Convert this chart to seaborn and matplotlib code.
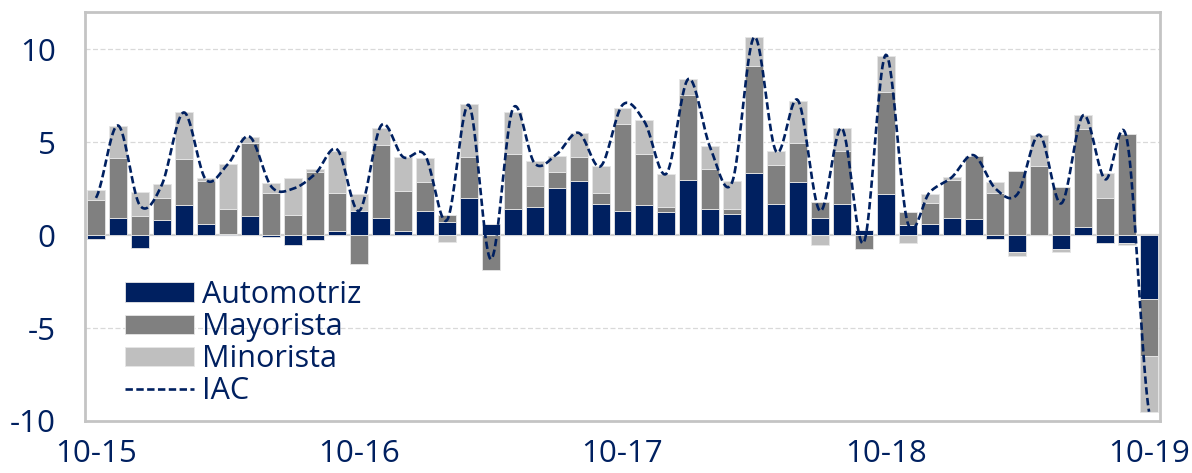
import numpy as np
import pandas as pd
import seaborn as sns
from matplotlib import pyplot as plt

# Monthly contributions, Oct-2015 .. Oct-2019
months = [f"{m:02d}-{y % 100}" for y in range(2015, 2020) for m in range(1, 13)]
months = months[9:9 + 49]

automotriz = [-0.2, 0.93, -0.7, 0.8, 1.6, 0.6, 0.05, 1.04, -0.1, -0.52, -0.27, 0.2,
              1.27, 0.9, 0.2, 1.27, 0.72, 2.0, 0.6, 1.42, 1.52, 2.51, 2.92, 1.67,
              1.27, 1.6, 1.24, 2.94, 1.42, 1.11, 3.32, 1.67, 2.83, 0.93, 1.67, 0.3,
              2.19, 0.52, 0.57, 0.9, 0.84, -0.23, -0.9, 0.03, -0.75, 0.41, -0.43, -0.45,
              -3.45]
mayorista = [1.9, 3.2, 1.0, 1.2, 2.5, 2.3, 1.38, 3.94, 2.24, 1.09, 3.4, 2.04,
             -1.56, 3.92, 2.17, 1.56, 0.36, 2.2, -1.86, 2.92, 1.1, 0.86, 1.26, 0.57,
             4.68, 2.74, 0.25, 4.62, 2.16, 0.32, 5.78, 2.08, 2.15, 0.86, 2.83, -0.75,
             5.48, 0.73, 1.13, 2.06, 3.43, 2.24, 3.46, 3.68, 2.56, 5.31, 2.0, 5.43,
             -3.05]
minorista = [0.5, 1.75, 1.3, 0.77, 2.5, 0.16, 2.4, 0.3, 0.56, 2.0, 0.15, 2.26,
             0.93, 0.95, 1.84, 1.33, -0.36, 2.84, 0.0, 2.27, 1.38, 0.9, 1.3, 1.47,
             0.9, 1.84, 1.8, 0.84, 1.22, 1.49, 1.53, 0.8, 2.21, -0.54, 1.25, 0.0,
             1.97, -0.45, 0.5, 0.18, 0.0, 0.59, -0.2, 1.65, -0.18, 0.73, 1.33, -0.09,
             -3.0]
iac = [2.0, 5.9, 1.6, 2.7, 6.6, 3.0, 3.8, 5.3, 2.6, 2.5, 3.3, 4.6,
       1.3, 5.9, 4.2, 4.3, 0.8, 7.0, -1.3, 6.8, 3.85, 4.35, 5.5, 3.7,
       7.0, 6.1, 3.3, 8.4, 4.7, 2.85, 10.65, 4.5, 7.25, 1.3, 5.75, -0.4,
       9.7, 0.65, 2.3, 3.1, 4.3, 2.5, 2.2, 5.4, 1.7, 6.45, 3.0, 5.1,
       -9.5]

series = ["Automotriz", "Mayorista", "Minorista"]
colors = ["#002060", "#808080", "#BFBFBF"]
navy = "#002060"

sns.set_style("white")
plt.rcParams['font.family'] = ['Open Sans', 'DejaVu Sans']
plt.rcParams['axes.unicode_minus'] = False

fig = plt.figure(figsize=(11.92, 4.73), dpi=100)
ax = fig.add_axes([85 / 1192, 1 - 421 / 473, 1075 / 1192, 409 / 473])

# stacked bars: positives stack upward, negatives downward
pos = np.zeros(len(months))
neg = np.zeros(len(months))
idx = np.arange(len(months))
for name, vals, col in zip(series, [automotriz, mayorista, minorista], colors):
    v = np.array(vals)
    bottom = np.where(v >= 0, pos, neg)
    df = pd.DataFrame({"i": idx, "v": v})
    sns.barplot(data=df, x="i", y="v", bottom=bottom, color=col, width=0.82,
                edgecolor="#E6E6E6", linewidth=0.6, label=name, ax=ax,
                saturation=1, zorder=3)
    pos = pos + np.where(v >= 0, v, 0)
    neg = neg + np.where(v < 0, v, 0)

# smoothed IAC line (Catmull-Rom, like Excel smoothed lines)
y = np.array(iac)
yp = np.concatenate([[y[0]], y, [y[-1]]])
xs, ys = [], []
t = np.linspace(0, 1, 20, endpoint=False)
for k in range(len(y) - 1):
    p0, p1, p2, p3 = yp[k], yp[k + 1], yp[k + 2], yp[k + 3]
    seg = 0.5 * (2 * p1 + (-p0 + p2) * t + (2 * p0 - 5 * p1 + 4 * p2 - p3) * t ** 2
                 + (-p0 + 3 * p1 - 3 * p2 + p3) * t ** 3)
    xs.extend(k + t)
    ys.extend(seg)
xs.append(len(y) - 1)
ys.append(y[-1])
sns.lineplot(x=xs, y=ys, color=navy, lw=1.9, linestyle=(0, (2.8, 1.3)),
             estimator=None, sort=False, label="IAC", ax=ax, zorder=4)

# axes styling
ax.set_xlim(-0.5, len(months) - 0.5)
ax.set_ylim(-10, 12)
ax.set_yticks([-10, -5, 0, 5, 10])
ax.set_xticks([0, 12, 24, 36, 48])
ax.set_xticklabels([months[i] for i in [0, 12, 24, 36, 48]])
ax.set_xlabel("")
ax.set_ylabel("")
ax.tick_params(axis="both", length=0, labelsize=22.5, labelcolor=navy)
ax.tick_params(axis="y", pad=21)
ax.tick_params(axis="x", pad=13)
for yv in [-5, 5, 10]:
    ax.axhline(yv, color="#D9D9D9", lw=0.9, ls=(0, (4, 2)), zorder=1)
ax.axhline(0, color="#D0D0D0", lw=1.6, zorder=2)
for s in ax.spines.values():
    s.set_color("#C4C4C4")
    s.set_linewidth(2)

handles, labels = ax.get_legend_handles_labels()
order = [labels.index(n) for n in series + ["IAC"]]
ax.legend([handles[i] for i in order], [labels[i] for i in order],
          loc="upper left", bbox_to_anchor=(0.037, 0.345), frameon=False,
          fontsize=22, labelcolor=navy, borderpad=0, borderaxespad=0,
          handlelength=2.25, handleheight=0.6, handletextpad=0.28,
          labelspacing=0.07)

fig.savefig("out.png", dpi=100)
